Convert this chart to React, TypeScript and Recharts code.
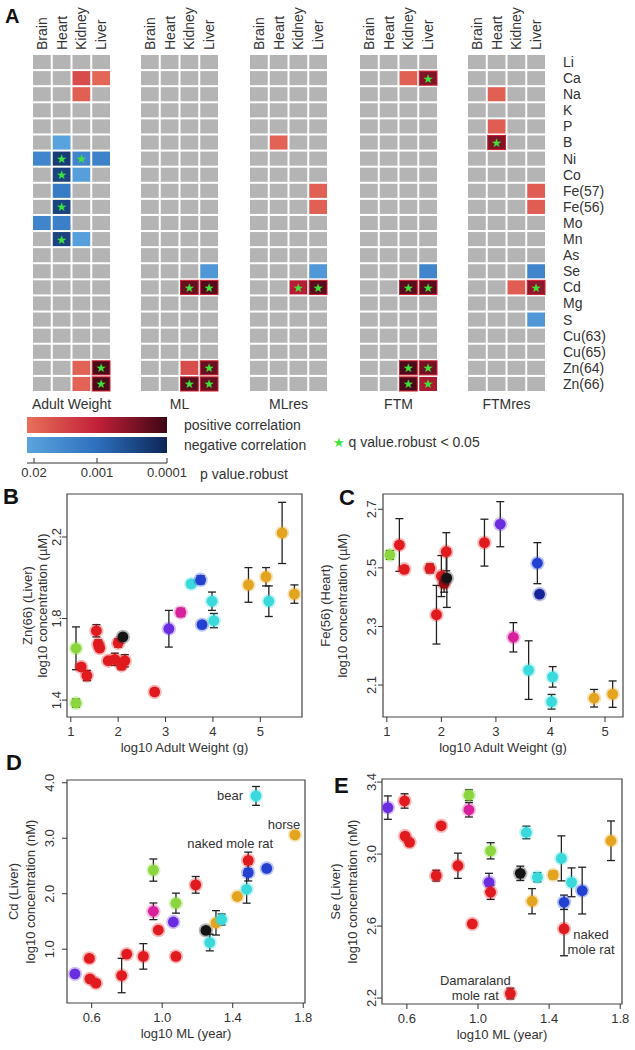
import React from 'react';
import {
  ScatterChart, Scatter, XAxis, YAxis, ErrorBar, ReferenceArea, Label,
  BarChart, Bar, Cell, Legend,
} from 'recharts';

const FONT = '"Liberation Sans", Arial, sans-serif';
const INK = '#333';
const GREY = '#b4b4b4';
const STAR = '#3ee03a';

// ---------- panel A: heatmap data ----------
const TISSUES = ['Brain', 'Heart', 'Kidney', 'Liver'];
const ELEMENTS = ['Li', 'Ca', 'Na', 'K', 'P', 'B', 'Ni', 'Co', 'Fe(57)', 'Fe(56)', 'Mo', 'Mn', 'As', 'Se', 'Cd', 'Mg', 'S', 'Cu(63)', 'Cu(65)', 'Zn(64)', 'Zn(66)'];
const TRAITS = ['Adult Weight', 'ML', 'MLres', 'FTM', 'FTMres'];

// [element, tissue, strength (sign = direction, 0 -> p 0.02, 1 -> p 0.0001), q < 0.05]
type Hit = [string, string, number, boolean];
const ADULT_WEIGHT_HITS: Hit[] = [
  ['Ca', 'Kidney', 0.22, false], ['Ca', 'Liver', 0.06, false], ['Na', 'Kidney', 0.1, false],
  ['B', 'Heart', -0.02, false],
  ['Ni', 'Brain', -0.28, false], ['Ni', 'Heart', -0.85, true], ['Ni', 'Kidney', -0.3, true], ['Ni', 'Liver', -0.32, false],
  ['Co', 'Heart', -0.8, true], ['Co', 'Kidney', -0.05, false],
  ['Fe(57)', 'Heart', -0.38, false], ['Fe(56)', 'Heart', -0.8, true],
  ['Mo', 'Brain', -0.3, false], ['Mo', 'Heart', -0.35, false],
  ['Mn', 'Heart', -0.8, true], ['Mn', 'Kidney', -0.05, false],
  ['Zn(64)', 'Kidney', 0.08, false], ['Zn(64)', 'Liver', 0.95, true],
  ['Zn(66)', 'Kidney', 0.08, false], ['Zn(66)', 'Liver', 0.95, true],
];
const ML_HITS: Hit[] = [
  ['Se', 'Liver', -0.12, false], ['Cd', 'Kidney', 0.85, true], ['Cd', 'Liver', 0.92, true],
  ['Zn(64)', 'Kidney', 0.22, false], ['Zn(64)', 'Liver', 0.85, true],
  ['Zn(66)', 'Kidney', 0.9, true], ['Zn(66)', 'Liver', 0.85, true],
];
const MLRES_HITS: Hit[] = [
  ['B', 'Heart', 0.08, false], ['Fe(57)', 'Liver', 0.1, false], ['Fe(56)', 'Liver', 0.1, false],
  ['Se', 'Liver', -0.12, false], ['Cd', 'Kidney', 0.55, true], ['Cd', 'Liver', 0.9, true],
];
const FTM_HITS: Hit[] = [
  ['Ca', 'Kidney', 0.1, false], ['Ca', 'Liver', 0.75, true], ['Se', 'Liver', -0.3, false],
  ['Cd', 'Kidney', 0.9, true], ['Cd', 'Liver', 0.9, true],
  ['Zn(64)', 'Kidney', 0.95, true], ['Zn(64)', 'Liver', 0.8, true],
  ['Zn(66)', 'Kidney', 0.95, true], ['Zn(66)', 'Liver', 0.6, true],
];
const FTMRES_HITS: Hit[] = [
  ['Na', 'Heart', 0.1, false], ['P', 'Heart', 0.12, false], ['B', 'Heart', 0.75, true],
  ['Fe(57)', 'Liver', 0.12, false], ['Fe(56)', 'Liver', 0.12, false], ['Se', 'Liver', -0.3, false],
  ['Cd', 'Kidney', 0.12, false], ['Cd', 'Liver', 0.7, true], ['S', 'Liver', -0.12, false],
];
const HITS = [ADULT_WEIGHT_HITS, ML_HITS, MLRES_HITS, FTM_HITS, FTMRES_HITS];

const P_TICKS = [0.05, 0.5, 1];
const P_LABELS = ['0.02', '0.001', '0.0001'];
const BAR_ROWS = [{ k: 'positive correlation', v: 1 }, { k: 'negative correlation', v: 1 }];

const POS = ['#e8705a', '#c22038', '#3e0716'];
const NEG = ['#5aa4de', '#2e6fbe', '#0d2656'];

// ---------- panels B-E: scatter data [x, y, error, colour, label] ----------
type Pt = [number, number, number, string, string?];
const B_POINTS: Pt[] = [
  [1.11, 1.654, 0.105, 'green'], [1.11, 1.385, 0.02, 'green'], [1.22, 1.563, 0.015, 'red'],
  [1.34, 1.52, 0.025, 'red'], [1.54, 1.74, 0.03, 'red'], [1.58, 1.675, 0.02, 'red'],
  [1.61, 1.655, 0.015, 'red'], [1.79, 1.593, 0.01, 'red'], [1.93, 1.6, 0.03, 'red'],
  [2.0, 1.68, 0.02, 'red'], [2.07, 1.57, 0.02, 'red'], [2.14, 1.593, 0.03, 'red'],
  [2.1, 1.71, 0.01, 'black'], [2.77, 1.44, 0.015, 'red'], [3.07, 1.75, 0.09, 'purple'],
  [3.32, 1.83, 0.02, 'magenta'], [3.54, 1.97, 0.015, 'cyan'], [3.74, 1.99, 0.02, 'blue'],
  [3.77, 1.77, 0.015, 'blue'], [3.98, 1.885, 0.045, 'cyan'], [4.02, 1.79, 0.035, 'cyan'],
  [4.75, 1.965, 0.085, 'orange'], [5.12, 2.005, 0.045, 'orange'], [5.18, 1.885, 0.075, 'cyan'],
  [5.46, 2.22, 0.15, 'orange'], [5.72, 1.92, 0.045, 'orange'],
];
const C_POINTS: Pt[] = [
  [1.055, 2.544, 0.015, 'green'], [1.23, 2.578, 0.09, 'red'], [1.32, 2.495, 0.01, 'red'],
  [1.79, 2.498, 0.015, 'red'], [1.91, 2.34, 0.1, 'red'], [2.0, 2.472, 0.07, 'red'],
  [2.05, 2.447, 0.03, 'dred'], [2.1, 2.465, 0.1, 'black'], [2.09, 2.555, 0.065, 'red'],
  [2.79, 2.586, 0.08, 'red'], [3.08, 2.649, 0.077, 'purple'], [3.32, 2.263, 0.05, 'magenta'],
  [3.6, 2.151, 0.1, 'cyan'], [3.76, 2.516, 0.07, 'blue'], [3.8, 2.41, 0.01, 'navy'],
  [4.04, 2.128, 0.035, 'cyan'], [4.02, 2.043, 0.025, 'cyan'], [4.8, 2.055, 0.03, 'orange'],
  [5.14, 2.069, 0.045, 'orange'],
];
const D_POINTS: Pt[] = [
  [0.505, 0.554, 0.02, 'purple'], [0.587, 0.834, 0.03, 'red'], [0.59, 0.465, 0.03, 'red'],
  [0.624, 0.388, 0.02, 'red'], [0.77, 0.525, 0.31, 'red'], [0.799, 0.91, 0.03, 'red'],
  [0.893, 0.87, 0.23, 'red'], [0.95, 2.426, 0.2, 'green'], [0.95, 1.683, 0.15, 'magenta'],
  [0.978, 1.345, 0.03, 'red'], [1.063, 1.49, 0.03, 'purple'], [1.078, 1.83, 0.18, 'green'],
  [1.078, 0.87, 0.02, 'red'], [1.19, 2.16, 0.15, 'red'], [1.248, 1.339, 0.03, 'black'],
  [1.27, 1.12, 0.15, 'cyan'], [1.305, 1.475, 0.22, 'orange'], [1.337, 1.535, 0.1, 'cyan'],
  [1.426, 1.95, 0.03, 'orange'], [1.479, 2.08, 0.25, 'cyan'], [1.488, 2.38, 0.15, 'blue'],
  [1.488, 2.6, 0.15, 'red', 'naked mole rat'], [1.593, 2.456, 0.03, 'blue'],
  [1.532, 3.763, 0.17, 'cyan', 'bear'], [1.753, 3.06, 0.02, 'orange', 'horse'],
];
const E_POINTS: Pt[] = [
  [0.493, 3.258, 0.065, 'purple'], [0.587, 3.295, 0.04, 'red'], [0.59, 3.1, 0.015, 'red'],
  [0.615, 3.065, 0.015, 'red'], [0.765, 2.88, 0.03, 'red'], [0.793, 3.157, 0.015, 'red'],
  [0.887, 2.935, 0.07, 'red'], [0.949, 3.327, 0.03, 'green'], [0.949, 3.246, 0.04, 'magenta'],
  [0.968, 2.612, 0.01, 'red'], [1.071, 3.018, 0.045, 'green'], [1.062, 2.843, 0.05, 'purple'],
  [1.071, 2.788, 0.04, 'red'], [1.182, 2.225, 0.03, 'red', 'Damaraland\nmole rat'],
  [1.238, 2.893, 0.04, 'black'], [1.272, 3.12, 0.035, 'cyan'], [1.304, 2.738, 0.07, 'orange'],
  [1.334, 2.871, 0.025, 'cyan'], [1.423, 2.884, 0.02, 'orange'], [1.469, 2.976, 0.125, 'cyan'],
  [1.484, 2.732, 0.04, 'blue'], [1.484, 2.585, 0.15, 'red', 'naked\nmole rat'],
  [1.526, 2.843, 0.08, 'cyan'], [1.586, 2.797, 0.13, 'blue'], [1.748, 3.074, 0.11, 'orange'],
];

const WEIGHT_TICKS = [1, 2, 3, 4, 5];
const ML_TICKS = [0.6, 1.0, 1.4, 1.8];
const B_Y_TICKS = [1.4, 1.8, 2.2];
const C_Y_TICKS = [2.1, 2.3, 2.5, 2.7];
const D_Y_TICKS = [1.0, 2.0, 3.0, 4.0];
const E_Y_TICKS = [2.2, 2.6, 3.0, 3.4];

const COLORS: Record<string, string> = {
  red: '#e01a1e', dred: '#960c12', green: '#8bd63e', purple: '#6b2de0', magenta: '#d81f9c',
  cyan: '#3ad9dc', blue: '#2341d0', navy: '#16249a', black: '#141414', orange: '#e3a41f',
};

// ---------- helpers ----------
function hex(c: string) {
  return [1, 3, 5].map((i) => parseInt(c.slice(i, i + 2), 16));
}
function mix(a: string, b: string, t: number) {
  const A = hex(a), B = hex(b);
  return 'rgb(' + A.map((v, i) => Math.round(v + (B[i] - v) * t)).join(',') + ')';
}
function ramp(stops: string[], t: number) {
  return t < 0.5 ? mix(stops[0], stops[1], t * 2) : mix(stops[1], stops[2], (t - 0.5) * 2);
}
function cellColor(s: number) {
  return s >= 0 ? ramp(POS, s) : ramp(NEG, -s);
}

// ---------- heatmap ----------
const HEAT_TOP = 54;
const HEAT_W = 79;
const HEAT_H = 338;
const HEAT_LEFTS = [32, 140, 249, 359, 467];
const COL_H = 54;
const NAME_H = 28;

function ColTick(props: any) {
  const { x, y, payload } = props;
  return (
    <text x={x} y={y} transform={`rotate(-90 ${x} ${y})`} textAnchor="start" dominantBaseline="central"
      fontSize={14} fill={INK} fontFamily={FONT}>
      {TISSUES[payload.value]}
    </text>
  );
}

function HeatCell(props: any) {
  const { cx, cy, payload } = props;
  const cw = HEAT_W / TISSUES.length;
  const ch = HEAT_H / ELEMENTS.length;
  const s = payload.s;
  const fill = s === null ? GREY : cellColor(s);
  return (
    <g>
      <rect x={cx - cw / 2 + 1} y={cy - ch / 2 + 1} width={cw - 2} height={ch - 2} fill={fill}
        stroke={s !== null && s > 0.6 ? '#cf2030' : 'none'} strokeWidth={1} />
      {payload.star && (
        <text x={cx} y={cy + 0.5} textAnchor="middle" dominantBaseline="central" fontSize={12}
          fill={STAR} fontFamily="DejaVu Sans">★</text>
      )}
    </g>
  );
}

function HeatPanel({ idx }: { idx: number }) {
  const hits = HITS[idx];
  const last = idx === TRAITS.length - 1;
  const data = ELEMENTS.flatMap((el, ei) => TISSUES.map((t, ti) => {
    const h = hits.find(([e, tt]) => e === el && tt === t);
    return { t: ti, e: ei, s: h ? h[2] : null, star: h ? h[3] : false };
  }));
  const side = 12;
  const yw = last ? 78 : 0;
  return (
    <div style={{ position: 'absolute', left: HEAT_LEFTS[idx] - side, top: HEAT_TOP - COL_H }}>
      <ScatterChart width={side * 2 + HEAT_W + yw} height={COL_H + HEAT_H + NAME_H}
        margin={{ top: 0, right: side, bottom: 0, left: side }}>
        <XAxis xAxisId="t" dataKey="t" type="number" orientation="top" domain={[-0.5, 3.5]}
          ticks={[0, 1, 2, 3]} interval={0} height={COL_H} axisLine={false} tickLine={false}
          tickSize={0} tickMargin={4} tick={<ColTick />} />
        <XAxis xAxisId="name" dataKey="t" type="number" orientation="bottom" domain={[-0.5, 3.5]}
          height={NAME_H} tick={false} axisLine={false} tickLine={false}>
          <Label value={TRAITS[idx]} position="insideTop" offset={7} fontSize={14} fill={INK} fontFamily={FONT} />
        </XAxis>
        <YAxis dataKey="e" type="number" domain={[-0.5, ELEMENTS.length - 0.5]} reversed
          ticks={ELEMENTS.map((_, i) => i)} interval={0} hide={!last} orientation="right" width={yw}
          axisLine={false} tickLine={false} tickSize={0} tickMargin={17}
          tickFormatter={(v: number) => ELEMENTS[v]}
          tick={{ fontSize: 14, fill: INK, fontFamily: FONT }} />
        <Scatter xAxisId="t" data={data} isAnimationActive={false} shape={(p: any) => <HeatCell {...p} />} />
      </ScatterChart>
    </div>
  );
}

// ---------- colour bar legend ----------
function PTick(props: any) {
  const { x, y, payload } = props;
  return (
    <g>
      <line x1={x} x2={x} y1={y} y2={y - 5} stroke={INK} strokeWidth={1} />
      <text x={x} y={y + 14} textAnchor="middle" fontSize={13} fill={INK} fontFamily={FONT}>
        {P_LABELS[P_TICKS.indexOf(payload.value)]}
      </text>
    </g>
  );
}

function CorrTick(props: any) {
  const { x, y, payload } = props;
  return (
    <text x={x} y={y} textAnchor="start" dominantBaseline="central" fontSize={14} fill={INK} fontFamily={FONT}>
      {payload.value}
    </text>
  );
}

function ColorBar() {
  const barLeft = 27;
  const padL = 20;
  const top = 415;
  const barW = 140;
  const width = 500;
  return (
    <div style={{ position: 'absolute', left: barLeft - padL, top }}>
      <BarChart layout="vertical" width={width} height={48 + 22} data={BAR_ROWS}
        margin={{ top: 0, right: 0, bottom: 0, left: padL }} barSize={16} barCategoryGap={0}>
        <defs>
          <linearGradient id="posGrad" x1="0" y1="0" x2="1" y2="0">
            {POS.map((c, i) => <stop key={i} offset={`${i * 50}%`} stopColor={c} />)}
          </linearGradient>
          <linearGradient id="negGrad" x1="0" y1="0" x2="1" y2="0">
            {NEG.map((c, i) => <stop key={i} offset={`${i * 50}%`} stopColor={c} />)}
          </linearGradient>
        </defs>
        <XAxis type="number" domain={[0, 1]} ticks={P_TICKS} interval={0} height={22}
          axisLine={{ stroke: INK }} tickLine={false} tickSize={0} tickMargin={0} tick={<PTick />}>
          <Label value="p value.robust" position="right" offset={33} fontSize={14} fill={INK} fontFamily={FONT} />
        </XAxis>
        <YAxis type="category" dataKey="k" orientation="right" width={width - barW - padL}
          axisLine={false} tickLine={false} tickSize={0} tickMargin={17} padding={{ top: 0, bottom: 8 }}
          interval={0} tick={<CorrTick />} />
        <Bar dataKey="v" isAnimationActive={false}>
          <Cell fill="url(#posGrad)" />
          <Cell fill="url(#negGrad)" />
        </Bar>
        <Legend layout="horizontal" verticalAlign="middle" align="center"
          wrapperStyle={{ left: 326, top: 19, width: 'auto' }}
          content={() => (
            <div style={{ fontSize: 14, fontFamily: FONT, color: INK, whiteSpace: 'nowrap', lineHeight: '16px' }}>
              <span style={{ color: STAR, fontFamily: 'DejaVu Sans', fontSize: 13 }}>★</span> q value.robust &lt; 0.05
            </div>
          )} />
      </BarChart>
    </div>
  );
}

// ---------- scatter panels ----------
type LabelPos = Record<string, { dx: number; dy: number; anchor: string }>;
const D_LABELS: LabelPos = {
  bear: { dx: -13, dy: 4, anchor: 'end' },
  horse: { dx: -11, dy: -6, anchor: 'middle' },
  'naked mole rat': { dx: -18, dy: -12, anchor: 'middle' },
};
const E_LABELS: LabelPos = {
  'naked\nmole rat': { dx: 27, dy: 10, anchor: 'middle' },
  'Damaraland\nmole rat': { dx: -35, dy: -9, anchor: 'middle' },
};

function Dot(props: any) {
  const { cx, cy, payload, labels } = props;
  const col = COLORS[payload.c];
  const lab = payload.name ? labels[payload.name] : null;
  return (
    <g>
      <circle cx={cx} cy={cy} r={7.2} fill={col} fillOpacity={0.3} />
      <circle cx={cx} cy={cy} r={5.4} fill={col} />
      {lab && (
        <text x={cx + lab.dx} y={cy + lab.dy} textAnchor={lab.anchor} fontSize={13} fill={INK} fontFamily={FONT}>
          {payload.name.split('\n').map((s: string, i: number) => (
            <tspan key={i} x={cx + lab.dx} dy={i ? 15 : 0}>{s}</tspan>
          ))}
        </text>
      )}
    </g>
  );
}

const Y_AXIS_W = 70;
const TOP_PAD = 10;
const RIGHT_PAD = 8;
const X_AXIS_H = 44;

function RotTick(props: any) {
  const { y, payload, off } = props;
  const x = Y_AXIS_W + off + 4.5;
  return (
    <text x={x} y={y} transform={`rotate(-90 ${x} ${y})`} textAnchor="middle" fontSize={13}
      fill={INK} fontFamily={FONT}>
      {Number(payload.value).toFixed(1)}
    </text>
  );
}

type Panel = {
  box: { left: number; top: number; right: number; bottom: number };
  xDomain: number[]; xTicks: number[]; xDigits: number; xTitle: string;
  yDomain: number[]; yTicks: number[]; yTitle: string[]; yTitleOff: number[]; tickOff: number;
};

function ScatterPanel({ cfg, points, labels }: { cfg: Panel; points: Pt[]; labels: LabelPos }) {
  const { box } = cfg;
  const data = points.map(([x, y, err, c, name]) => ({ x, y, err, c, name }));
  const w = Y_AXIS_W + (box.right - box.left) + RIGHT_PAD;
  const h = TOP_PAD + (box.bottom - box.top) + X_AXIS_H;
  const txt = { fontSize: 13, fill: INK, fontFamily: FONT };
  return (
    <div style={{ position: 'absolute', left: box.left - Y_AXIS_W, top: box.top - TOP_PAD }}>
      <ScatterChart width={w} height={h} margin={{ top: TOP_PAD, right: RIGHT_PAD, bottom: 0, left: 0 }}>
        <XAxis dataKey="x" type="number" domain={cfg.xDomain} ticks={cfg.xTicks} interval={0} allowDataOverflow
          axisLine={false} tickLine={{ stroke: INK }} tickSize={5} tickMargin={5} height={X_AXIS_H}
          tick={txt} tickFormatter={(v: number) => v.toFixed(cfg.xDigits)}>
          <Label value={cfg.xTitle} position="insideBottom" offset={9} {...txt} />
        </XAxis>
        <YAxis dataKey="y" type="number" domain={cfg.yDomain} ticks={cfg.yTicks} interval={0} allowDataOverflow
          axisLine={false} tickLine={{ stroke: INK }} tickSize={5} width={Y_AXIS_W}
          tick={<RotTick off={cfg.tickOff} />}>
          <Label value={cfg.yTitle[0]} angle={-90} position="insideLeft" offset={Y_AXIS_W + cfg.yTitleOff[0]}
            style={{ textAnchor: 'middle' }} {...txt} />
          <Label value={cfg.yTitle[1]} angle={-90} position="insideLeft" offset={Y_AXIS_W + cfg.yTitleOff[1]}
            style={{ textAnchor: 'middle' }} {...txt} />
        </YAxis>
        <ReferenceArea x1={cfg.xDomain[0]} x2={cfg.xDomain[1]} y1={cfg.yDomain[0]} y2={cfg.yDomain[1]}
          fill="none" fillOpacity={0} stroke="#444" strokeWidth={1.2} ifOverflow="visible" />
        <Scatter data={data} isAnimationActive={false} shape={(p: any) => <Dot {...p} labels={labels} />}>
          <ErrorBar dataKey="err" direction="y" width={4} stroke="#222" strokeWidth={1.3} />
        </Scatter>
      </ScatterChart>
    </div>
  );
}

const PANEL_B: Panel = {
  box: { left: 67, top: 494, right: 302, bottom: 717 },
  xDomain: [0.92, 5.88], xTicks: WEIGHT_TICKS, xDigits: 0, xTitle: 'log10 Adult Weight (g)',
  yDomain: [1.317, 2.411], yTicks: B_Y_TICKS, yTitle: ['Zn(66) (Liver)', 'log10 concentration (µM)'],
  yTitleOff: [-40, -25], tickOff: -10,
};
const PANEL_C: Panel = {
  box: { left: 383, top: 494, right: 623, bottom: 717 },
  xDomain: [0.93, 5.33], xTicks: WEIGHT_TICKS, xDigits: 0, xTitle: 'log10 Adult Weight (g)',
  yDomain: [1.991, 2.752], yTicks: C_Y_TICKS, yTitle: ['Fe(56) (Heart)', 'log10 concentration (µM)'],
  yTitleOff: [-58, -41], tickOff: -11,
};
const PANEL_D: Panel = {
  box: { left: 67, top: 780, right: 305, bottom: 1003 },
  xDomain: [0.46, 1.81], xTicks: ML_TICKS, xDigits: 1, xTitle: 'log10 ML (year)',
  yDomain: [0.03, 4.05], yTicks: D_Y_TICKS, yTitle: ['Cd (Liver)', 'log10 concentration (nM)'],
  yTitleOff: [-54, -37], tickOff: -17,
};
const PANEL_E: Panel = {
  box: { left: 382, top: 779, right: 622, bottom: 1004 },
  xDomain: [0.46, 1.81], xTicks: ML_TICKS, xDigits: 1, xTitle: 'log10 ML (year)',
  yDomain: [2.167, 3.417], yTicks: E_Y_TICKS, yTitle: ['Se (Liver)', 'log10 concentration (nM)'],
  yTitleOff: [-47, -30], tickOff: -10,
};

const LETTERS = [
  { t: 'A', left: 5, top: 6, size: 20 },
  { t: 'B', left: 3, top: 486, size: 22 },
  { t: 'C', left: 339, top: 487, size: 22 },
  { t: 'D', left: 6, top: 752, size: 22 },
  { t: 'E', left: 334, top: 775, size: 22 },
];

export default function App() {
  return (
    <div style={{ position: 'absolute', left: 0, top: 0, width: 635, height: 1050, background: '#fff', fontFamily: FONT, overflow: 'hidden' }}>
      {TRAITS.map((_, i) => <HeatPanel key={i} idx={i} />)}
      <ColorBar />
      <ScatterPanel cfg={PANEL_B} points={B_POINTS} labels={{}} />
      <ScatterPanel cfg={PANEL_C} points={C_POINTS} labels={{}} />
      <ScatterPanel cfg={PANEL_D} points={D_POINTS} labels={D_LABELS} />
      <ScatterPanel cfg={PANEL_E} points={E_POINTS} labels={E_LABELS} />
      {LETTERS.map((l) => (
        <div key={l.t} style={{ position: 'absolute', left: l.left, top: l.top, fontSize: l.size, fontWeight: 'bold', lineHeight: 1, color: '#111' }}>
          {l.t}
        </div>
      ))}
    </div>
  );
}
